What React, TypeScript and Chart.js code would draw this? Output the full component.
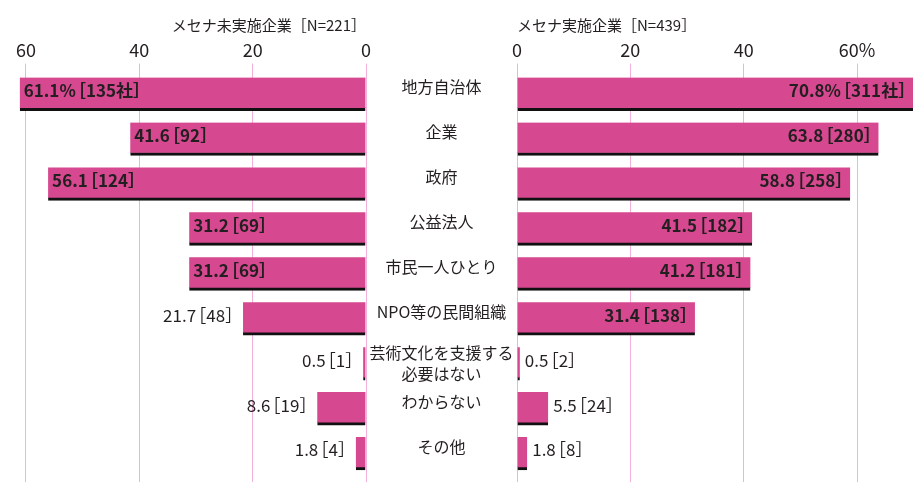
import React, { useEffect, useRef } from "react";
import { Chart, registerables } from "chart.js";

Chart.register(...registerables);

const categories: (string | string[])[] = [
  "地方自治体",
  "企業",
  "政府",
  "公益法人",
  "市民一人ひとり",
  "NPO等の民間組織",
  ["芸術文化を支援する", "必要はない"],
  "わからない",
  "その他",
];

const nonMecenatValues = [61.1, 41.6, 56.1, 31.2, 31.2, 21.7, 0.5, 8.6, 1.8];
const nonMecenatCounts = [135, 92, 124, 69, 69, 48, 1, 19, 4];
const mecenatValues = [70.8, 63.8, 58.8, 41.5, 41.2, 31.4, 0.5, 5.5, 1.8];
const mecenatCounts = [311, 280, 258, 182, 181, 138, 2, 24, 8];

const leftTitle = "メセナ未実施企業［N=221］";
const rightTitle = "メセナ実施企業［N=439］";
const tickValues = [0, 20, 40, 60];

const W = 913;
const H = 482;
const FONT = "'Noto Sans CJK JP', 'Noto Sans', sans-serif";
const PINK = "#d6488f";
const GRID = "#f3b0da";
const TEXT = "#231f20";
const LEFT_ZERO = 366;
const RIGHT_ZERO = 517;
const PX_PER_UNIT = 340 / 60;
const LABEL_SIZE = 17;

// Split a value label into pieces so the full-width brackets can be drawn tighter.
function labelParts(v: number, c: number, i: number) {
  return [
    { t: v.toFixed(1) + (i === 0 ? "%" : ""), pre: 0, post: 0 },
    { t: "［", pre: -0.4, post: 0 },
    { t: c + (i === 0 ? "社" : ""), pre: 0, post: 0 },
    { t: "］", pre: 0, post: -0.42 },
  ];
}

function drawParts(ctx: CanvasRenderingContext2D, parts: any[], x: number, y: number, align: "left" | "right") {
  const em = LABEL_SIZE;
  const widths = parts.map((p) => ctx.measureText(p.t).width + (p.pre + p.post) * em);
  const total = widths.reduce((a, b) => a + b, 0);
  let cx = align === "left" ? x : x - total;
  ctx.textAlign = "left";
  parts.forEach((p, k) => {
    ctx.fillText(p.t, cx + p.pre * em, y);
    cx += widths[k];
  });
}

function labelPlugin(side: "left" | "right", values: number[], counts: number[]) {
  return {
    id: "valueLabels" + side,
    afterDatasetsDraw(chart: any) {
      const ctx = chart.ctx;
      const meta = chart.getDatasetMeta(0);
      const area = chart.chartArea;
      ctx.save();
      ctx.fillStyle = TEXT;
      ctx.textBaseline = "middle";
      meta.data.forEach((el: any, i: number) => {
        const v = values[i];
        const parts = labelParts(v, counts[i], i);
        const inside = v >= 30;
        const y = el.y - 3.5;
        ctx.font = (inside ? "bold " : "") + LABEL_SIZE + "px " + FONT;
        if (side === "left") {
          if (inside) drawParts(ctx, parts, Math.max(el.x, area.left) + 4, y, "left");
          else drawParts(ctx, parts, el.x - 8, y, "right");
        } else {
          if (inside) drawParts(ctx, parts, Math.min(el.x, area.right) - 5, y, "right");
          else drawParts(ctx, parts, el.x + 5, y, "left");
        }
      });
      // Category labels in the centre gutter (drawn once, by the right-hand chart)
      if (side === "right") {
        const yScale = chart.scales.y;
        const cx = (LEFT_ZERO + RIGHT_ZERO) / 2;
        ctx.font = "16px " + FONT;
        ctx.textAlign = "center";
        categories.forEach((c, i) => {
          const py = yScale.getPixelForValue(i);
          if (Array.isArray(c)) {
            ctx.fillText(c[0], cx, py - 11);
            ctx.fillText(c[1], cx, py + 10);
          } else {
            ctx.fillText(c, cx, py - 7);
          }
        });
      }
      ctx.restore();
    },
  };
}

function makeConfig(side: "left" | "right"): any {
  const isLeft = side === "left";
  const values = isLeft ? nonMecenatValues : mecenatValues;
  const counts = isLeft ? nonMecenatCounts : mecenatCounts;
  const max = isLeft ? LEFT_ZERO / PX_PER_UNIT : (W - RIGHT_ZERO) / PX_PER_UNIT;
  const xCommon = {
    type: "linear",
    min: 0,
    max,
    reverse: isLeft,
  };
  return {
    type: "bar",
    data: {
      labels: categories,
      datasets: [
        {
          data: values,
          backgroundColor: PINK,
          borderColor: "#111111",
          borderWidth: { top: 0, left: 0, right: 0, bottom: 3 },
          borderSkipped: false,
          barThickness: 33,
        },
      ],
    },
    options: {
      indexAxis: "y",
      responsive: false,
      animation: false,
      layout: {
        padding: isLeft
          ? { left: 0, right: W - LEFT_ZERO, top: 0, bottom: 0 }
          : { left: RIGHT_ZERO, right: 0, top: 0, bottom: 0 },
      },
      plugins: {
        legend: { display: false },
        tooltip: { enabled: false },
        title: {
          display: true,
          text: isLeft ? leftTitle : rightTitle,
          fullSize: false,
          align: isLeft ? "end" : "start",
          color: TEXT,
          font: { family: FONT, size: 15, weight: "normal" },
          padding: { top: 16, bottom: 2 },
        },
      },
      scales: {
        x: {
          ...xCommon,
          position: "top",
          afterBuildTicks: (axis: any) => {
            axis.ticks = tickValues.map((v) => ({ value: v }));
          },
          ticks: {
            color: TEXT,
            font: { family: FONT, size: 18 },
            padding: 3,
            callback: (v: any) => (!isLeft && v === 60 ? "60%" : String(v)),
          },
          grid: {
            color: GRID,
            lineWidth: 1,
            drawTicks: true,
            tickLength: 8,
          },
          border: { display: false },
        },
        x2: {
          ...xCommon,
          position: "bottom",
          afterBuildTicks: (axis: any) => {
            axis.ticks = tickValues.map((v) => ({ value: v }));
          },
          ticks: { display: false },
          grid: {
            color: GRID,
            lineWidth: 1,
            drawOnChartArea: false,
            drawTicks: true,
            tickLength: 6,
          },
          border: { display: false },
        },
        y: {
          type: "category",
          position: "left",
          display: false,
          afterFit: (axis: any) => {
            axis.width = 0;
          },
          grid: { display: false, drawTicks: false },
          border: { display: false },
        },
      },
    },
    plugins: [labelPlugin(side, values, counts)],
  };
}

export default function App() {
  const leftRef = useRef<HTMLCanvasElement>(null);
  const rightRef = useRef<HTMLCanvasElement>(null);

  useEffect(() => {
    Chart.defaults.font.family = FONT;
    const left = new Chart(leftRef.current as HTMLCanvasElement, makeConfig("left"));
    const right = new Chart(rightRef.current as HTMLCanvasElement, makeConfig("right"));
    return () => {
      left.destroy();
      right.destroy();
    };
  }, []);

  const canvasStyle: React.CSSProperties = {
    position: "absolute",
    left: 0,
    top: 0,
    width: W,
    height: H,
  };

  return (
    <div
      style={{
        position: "fixed",
        left: 0,
        top: 0,
        width: W,
        height: H,
        background: "#ffffff",
        overflow: "hidden",
      }}
    >
      <canvas ref={leftRef} width={W} height={H} style={canvasStyle} />
      <canvas ref={rightRef} width={W} height={H} style={canvasStyle} />
    </div>
  );
}
